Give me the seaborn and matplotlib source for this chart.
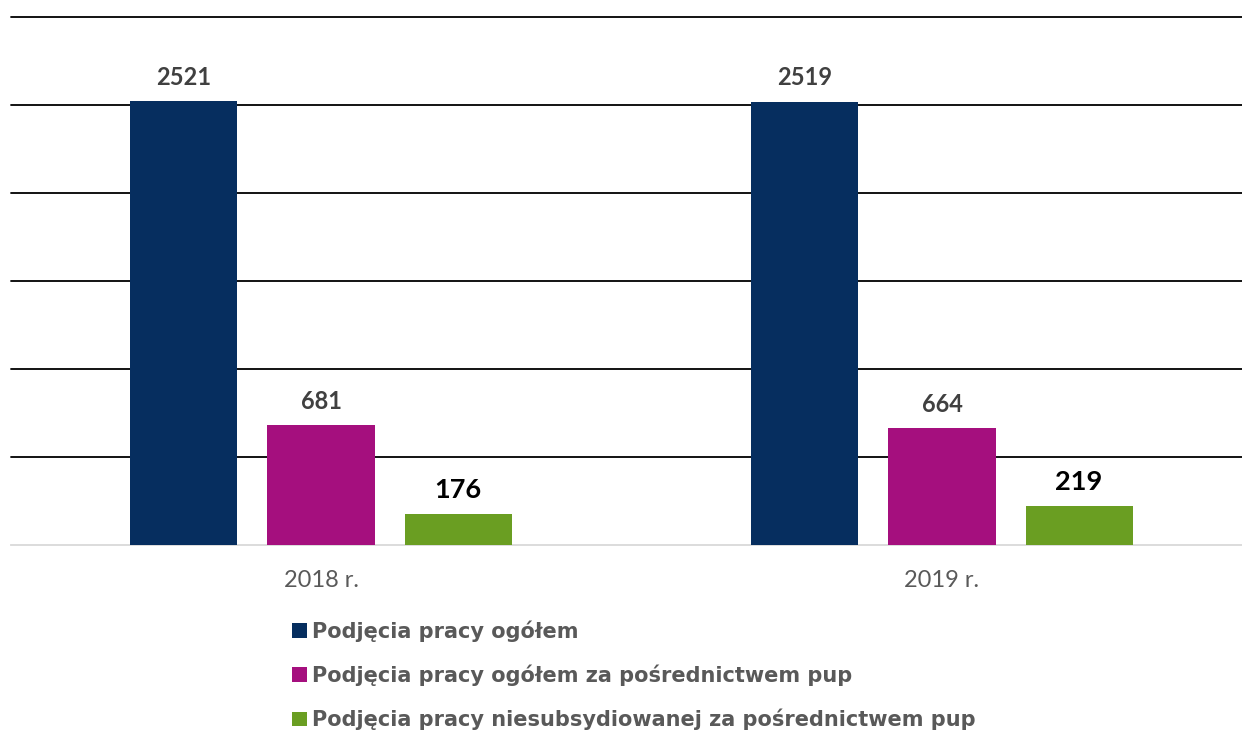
import matplotlib
matplotlib.use("Agg")
import matplotlib.pyplot as plt
import seaborn as sns
import pandas as pd
from matplotlib.patches import Patch

years = ["2018 r.", "2019 r."]
series = ["Podjęcia pracy ogółem",
          "Podjęcia pracy ogółem za pośrednictwem pup",
          "Podjęcia pracy niesubsydiowanej za pośrednictwem pup"]
values_total = [2521, 2519]
values_pup = [681, 664]
values_unsub = [176, 219]
colors = ["#062E5F", "#A50F7E", "#6A9E22"]
label_colors = ["#404040", "#404040", "#000000"]
label_sizes = [17, 17, 19.5]

rows = []
for s, vals in zip(series, [values_total, values_pup, values_unsub]):
    for y, v in zip(years, vals):
        rows.append({"year": y, "series": s, "value": v})
df = pd.DataFrame(rows)

sns.set_theme(style="white")
plt.rcParams["font.family"] = ["Lato", "DejaVu Sans"]

fig = plt.figure(figsize=(12.42, 7.31), dpi=100)
ax = fig.add_axes([10.5 / 1242, 186 / 731, 1242 / 1242, 528 / 731])

sns.barplot(data=df, x="year", y="value", hue="series", palette=colors,
            width=0.662, gap=0.219, ax=ax, saturation=1, legend=False,
            zorder=3, linewidth=0)

ax.set_xlim(-0.5, 1.5)
ax.set_ylim(0, 3000)
ax.set_yticks([500, 1000, 1500, 2000, 2500, 3000])
ax.yaxis.grid(True, color="#000000", linewidth=1.3, zorder=0)
for gl in ax.get_ygridlines():
    gl.set_clip_on(False)
ax.set_axisbelow(True)
ax.tick_params(axis="y", left=False, labelleft=False)
ax.tick_params(axis="x", bottom=False, pad=12)
for lab in ax.get_xticklabels():
    lab.set_fontsize(17)
    lab.set_color("#595959")
    lab.set_fontweight("normal")
ax.set_xlabel("")
ax.set_ylabel("")
for side in ["top", "right", "left"]:
    ax.spines[side].set_visible(False)
ax.spines["bottom"].set_color("#D9D9D9")
ax.spines["bottom"].set_linewidth(1.3)

for cont, lc, ls in zip(ax.containers, label_colors, label_sizes):
    ax.bar_label(cont, labels=[f"{int(v)}" for v in cont.datavalues],
                 padding=9, color=lc, fontsize=ls, fontweight="bold")

handles = [Patch(facecolor=c, edgecolor="none") for c in colors]
leg = fig.legend(handles, series, loc="upper left",
                 bbox_to_anchor=(292 / 1242, 1 - 620 / 731),
                 frameon=False, prop={"family": "DejaVu Sans", "weight": "bold", "size": 15},
                 handlelength=0.7, handleheight=0.7,
                 handletextpad=0.25, labelspacing=1.1, borderaxespad=0, borderpad=0)
for t in leg.get_texts():
    t.set_color("#595959")

fig.savefig("out.png", dpi=100)
